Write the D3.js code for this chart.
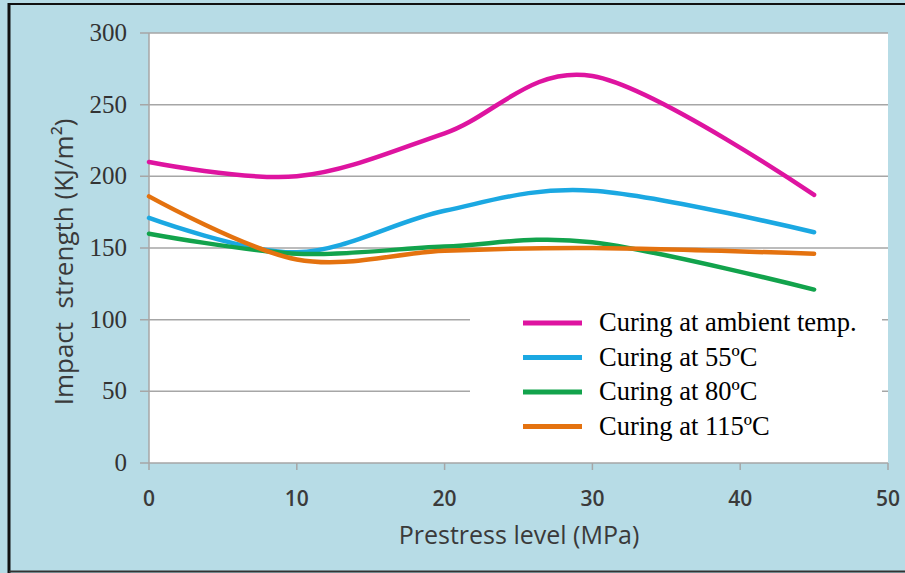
<!DOCTYPE html>
<html>
<head>
<meta charset="utf-8">
<script src="https://cdn.jsdelivr.net/npm/d3@7"></script>
<style>
  body { margin: 0; background: #fff; }
  svg { display: block; }
</style>
</head>
<body>
<div id="chart"></div>
<script>
// prestress levels (MPa)
var prestress = [0, 10, 20, 30, 45];
var ambient = [210, 200, 230, 270, 187];
var c55 = [171, 147, 176, 190, 161];
var c80 = [160, 146, 151, 154, 121];
var c115 = [186, 142, 148, 150, 146];
var seriesNames = ["Curing at ambient temp.", "Curing at 55ºC", "Curing at 80ºC", "Curing at 115ºC"];
var seriesColors = ["#de14a0", "#1ba8e2", "#12a34c", "#e4720f"];
var yTicks = [0, 50, 100, 150, 200, 250, 300];
var xTicks = [0, 10, 20, 30, 40, 50];

var W = 905, H = 573;
var margin = { top: 33, right: 17, bottom: 110, left: 149 },
    width = W - margin.left - margin.right,
    height = H - margin.top - margin.bottom;

var svg = d3.select("#chart").append("svg")
    .attr("width", W)
    .attr("height", H);

// background + frame
svg.append("rect").attr("width", W).attr("height", H).attr("fill", "#b7dce6");
svg.append("line").attr("x1", 9).attr("x2", W).attr("y1", 4).attr("y2", 4)
    .attr("stroke", "#111").attr("stroke-width", 2);
svg.append("line").attr("x1", 9).attr("x2", 9).attr("y1", 3).attr("y2", 573)
    .attr("stroke", "#111").attr("stroke-width", 3);
svg.append("line").attr("x1", 9).attr("x2", W).attr("y1", 571.5).attr("y2", 571.5)
    .attr("stroke", "#333").attr("stroke-width", 2);

var g = svg.append("g")
    .attr("transform", "translate(" + margin.left + "," + margin.top + ")");

var x = d3.scaleLinear().domain([0, 50]).range([0, width]);
var y = d3.scaleLinear().domain([0, 300]).range([height, 0]);

// plot area
g.append("rect").attr("width", width).attr("height", height).attr("fill", "#fff");

// gridlines
g.selectAll(".grid")
    .data(yTicks)
  .enter().append("line")
    .attr("x1", -9).attr("x2", width)
    .attr("y1", function(d) { return y(d); })
    .attr("y2", function(d) { return y(d); })
    .attr("stroke", "#a6a6a6")
    .attr("stroke-width", 1.5);

// y axis line
g.append("line").attr("x1", 0).attr("x2", 0).attr("y1", 0).attr("y2", height)
    .attr("stroke", "#a6a6a6").attr("stroke-width", 1.5);

// x ticks
g.selectAll(".xtick")
    .data(xTicks)
  .enter().append("line")
    .attr("x1", function(d) { return x(d); })
    .attr("x2", function(d) { return x(d); })
    .attr("y1", height).attr("y2", height + 7)
    .attr("stroke", "#a6a6a6").attr("stroke-width", 1.5);

// lines
var line = d3.line()
    .x(function(d) { return x(d[0]); })
    .y(function(d) { return y(d[1]); })
    .curve(d3.curveCatmullRom.alpha(0));

var allSeries = [ambient, c55, c80, c115];
allSeries.forEach(function(vals, i) {
  g.append("path")
    .datum(prestress.map(function(p, j) { return [p, vals[j]]; }))
    .attr("fill", "none")
    .attr("stroke", seriesColors[i])
    .attr("stroke-width", 4.5)
    .attr("stroke-linecap", "round")
    .attr("d", line);
});

// legend
var legend = g.append("g").attr("transform", "translate(" + (470 - margin.left) + "," + (298 - margin.top) + ")");
legend.append("rect").attr("width", 412).attr("height", 162).attr("fill", "#fff");
seriesNames.forEach(function(name, i) {
  var ly = 25 + i * 34.5;
  legend.append("line")
    .attr("x1", 53).attr("x2", 112)
    .attr("y1", ly).attr("y2", ly)
    .attr("stroke", seriesColors[i]).attr("stroke-width", 5);
  legend.append("text")
    .attr("x", 129).attr("y", ly + 8)
    .style("font-family", "'Liberation Serif', 'Times New Roman', serif")
    .style("font-size", "26.5px")
    .attr("fill", "#000")
    .text(name);
});

// y tick labels
g.selectAll(".ylab")
    .data(yTicks)
  .enter().append("text")
    .attr("x", -22)
    .attr("y", function(d) { return y(d) + 8; })
    .attr("text-anchor", "end")
    .style("font-family", "'Liberation Serif', 'Times New Roman', serif")
    .style("font-size", "25px")
    .attr("fill", "#333")
    .text(function(d) { return d; });

// x tick labels
g.selectAll(".xlab")
    .data(xTicks)
  .enter().append("text")
    .attr("x", function(d) { return x(d); })
    .attr("y", height + 43)
    .attr("text-anchor", "middle")
    .style("font-family", "'Open Sans', sans-serif")
    .style("font-size", "21px")
    .style("font-weight", "600")
    .attr("fill", "#3a3a3a")
    .text(function(d) { return d; });

// axis titles
svg.append("text")
    .attr("x", 519).attr("y", 544)
    .attr("text-anchor", "middle")
    .style("font-family", "'Open Sans', sans-serif")
    .style("font-size", "25px")
    .attr("fill", "#3a3a3a")
    .text("Prestress level (MPa)");

svg.append("text")
    .attr("transform", "translate(73,262) rotate(-90)")
    .attr("text-anchor", "middle")
    .style("font-family", "'Open Sans', sans-serif")
    .style("font-size", "26px")
    .style("white-space", "pre")
    .attr("fill", "#3a3a3a")
    .text("Impact  strength (KJ/m²)");
</script>
</body>
</html>
